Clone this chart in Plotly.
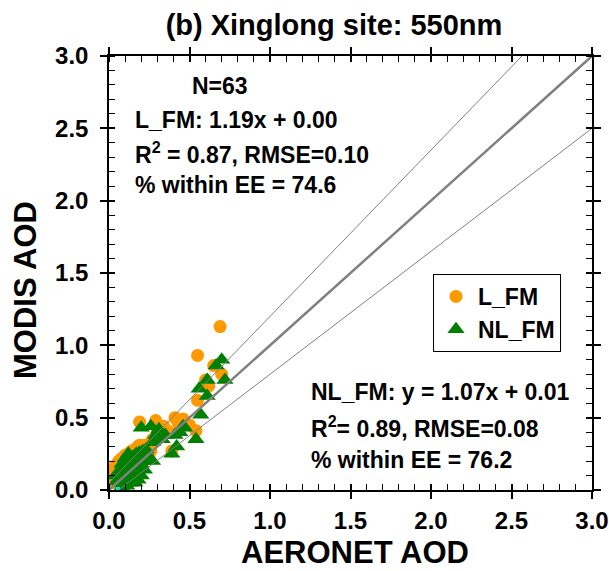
import plotly.graph_objects as go

# ---------------- data ----------------
l_fm_x = [0.69, 0.55, 0.65, 0.70, 0.60, 0.62, 0.55, 0.54, 0.19, 0.29, 0.41, 0.46, 0.34, 0.39, 0.19, 0.24, 0.30, 0.43, 0.37, 0.50,
          0.02, 0.04, 0.05, 0.06, 0.07, 0.08, 0.09, 0.10, 0.11, 0.12, 0.13, 0.14, 0.15, 0.16, 0.17, 0.18, 0.20, 0.21, 0.22, 0.23, 0.25, 0.27,
          0.05, 0.08, 0.10, 0.12, 0.14, 0.16, 0.18,
          0.03, 0.06, 0.09, 0.11, 0.13, 0.15, 0.17, 0.20, 0.22, 0.26, 0.32, 0.36, 0.28, 0.07]
l_fm_y = [1.13, 0.93, 0.86, 0.80, 0.76, 0.72, 0.62, 0.41, 0.47, 0.48, 0.50, 0.49, 0.44, 0.27, 0.31, 0.30, 0.42, 0.46, 0.40, 0.45,
          0.12, 0.17, 0.14, 0.20, 0.15, 0.22, 0.18, 0.24, 0.20, 0.25, 0.22, 0.27, 0.25, 0.28, 0.26, 0.30, 0.29, 0.28, 0.31, 0.25, 0.29, 0.35,
          0.08, 0.10, 0.12, 0.15, 0.13, 0.18, 0.16,
          0.05, 0.07, 0.10, 0.12, 0.11, 0.20, 0.19, 0.23, 0.21, 0.27, 0.38, 0.41, 0.33, 0.09]

nl_fm_x = [0.70, 0.665, 0.61, 0.72, 0.56, 0.61, 0.57, 0.20, 0.26, 0.29, 0.35, 0.41, 0.46, 0.54, 0.39, 0.44, 0.31, 0.33, 0.42, 0.27, 0.47,
           0.08, 0.09, 0.10, 0.12, 0.13, 0.15, 0.17, 0.18, 0.20, 0.22, 0.24, 0.16, 0.14, 0.12, 0.10, 0.08, 0.06, 0.07, 0.09, 0.11,
           0.13, 0.15, 0.17, 0.19, 0.21, 0.23, 0.25, 0.27, 0.20, 0.18, 0.16, 0.11, 0.07, 0.05, 0.06, 0.14, 0.19, 0.22, 0.12, 0.10,
           0.08, 0.04]
nl_fm_y = [0.90, 0.86, 0.76, 0.76, 0.70, 0.65, 0.52, 0.43, 0.44, 0.38, 0.38, 0.38, 0.44, 0.35, 0.25, 0.40, 0.42, 0.35, 0.30, 0.33, 0.43,
           0.02, 0.04, 0.06, 0.08, 0.05, 0.10, 0.12, 0.15, 0.18, 0.20, 0.23, 0.20, 0.16, 0.14, 0.12, 0.10, 0.08, 0.13, 0.17, 0.19,
           0.21, 0.23, 0.25, 0.26, 0.27, 0.28, 0.22, 0.20, 0.10, 0.07, 0.05, 0.03, 0.05, 0.06, 0.11, 0.12, 0.22, 0.14, 0.25, 0.22,
           0.18, 0.10]

extra_x = [0.056]
extra_y = [0.007]

line_x = [0.0, 3.0]
ee_abs = 0.05
ee_rel = 0.15

tick_vals = [0.0, 0.5, 1.0, 1.5, 2.0, 2.5, 3.0]
tick_text = ["0.0", "0.5", "1.0", "1.5", "2.0", "2.5", "3.0"]

FONT = "Liberation Sans, Arial, sans-serif"

fig = go.Figure()

fig.add_trace(go.Scatter(x=l_fm_x, y=l_fm_y, mode="markers", name="L_FM",
                         marker=dict(symbol="circle", size=13, color="#FF9900")))
fig.add_trace(go.Scatter(x=nl_fm_x, y=nl_fm_y, mode="markers", name="NL_FM",
                         marker=dict(symbol="triangle-up", size=15, color="#008000")))
fig.add_trace(go.Scatter(x=extra_x, y=extra_y, mode="markers", showlegend=False,
                         marker=dict(symbol="square", size=4, color="#00E5E5")))

# 1:1 and expected-error lines
fig.add_trace(go.Scatter(x=line_x, y=line_x, mode="lines", showlegend=False,
                         line=dict(color="#808080", width=2.5)))
up_x = [0.0, (3.0 - ee_abs) / (1 + ee_rel)]
fig.add_trace(go.Scatter(x=up_x, y=[v * (1 + ee_rel) + ee_abs for v in up_x], mode="lines",
                         showlegend=False, line=dict(color="#808080", width=1)))
lo_x = [ee_abs / (1 - ee_rel), 3.0]
fig.add_trace(go.Scatter(x=lo_x, y=[v * (1 - ee_rel) - ee_abs for v in lo_x], mode="lines",
                         showlegend=False, line=dict(color="#808080", width=1)))

# invisible trace to carry the overlay axes (inner half of major ticks)
fig.add_trace(go.Scatter(x=line_x, y=line_x, xaxis="x2", yaxis="y2", mode="markers",
                         marker=dict(opacity=0), showlegend=False, hoverinfo="skip"))

axis_common = dict(range=[0, 3], tickvals=tick_vals, ticktext=tick_text, automargin=False,
                   showgrid=False, zeroline=False, showline=True, linecolor="black", linewidth=1.5,
                   mirror="ticks", ticks="outside", ticklen=7, tickwidth=1.5, tickcolor="black",
                   minor=dict(ticks="inside", dtick=0.1, ticklen=6, tickwidth=1.2, tickcolor="black"),
                   tickfont=dict(family=FONT, size=24, color="black", weight="bold"))

fig.update_layout(
    width=609, height=571,
    margin=dict(l=109, r=17, t=56, b=81, autoexpand=False),
    paper_bgcolor="white", plot_bgcolor="white",
    title=dict(text="<b>(b) Xinglong site: 550nm</b>", x=334 / 609, xanchor="center",
               y=1 - 25 / 571, yanchor="middle", font=dict(family=FONT, size=29, color="black")),
    xaxis=dict(**axis_common, ticklabelstandoff=1),
    yaxis=dict(**axis_common, ticklabelstandoff=7),
    xaxis2=dict(range=[0, 3], overlaying="x", matches="x", tickvals=tick_vals, showticklabels=False,
                ticks="inside", ticklen=6, tickwidth=1.5, tickcolor="black", mirror="ticks", automargin=False,
                showline=False, showgrid=False, zeroline=False),
    yaxis2=dict(range=[0, 3], overlaying="y", matches="y", tickvals=tick_vals, showticklabels=False,
                ticks="inside", ticklen=6, tickwidth=1.5, tickcolor="black", mirror="ticks", automargin=False,
                showline=False, showgrid=False, zeroline=False),
    legend=dict(x=(433 - 109) / 483, y=(490 - 274) / 434, xanchor="left", yanchor="top",
                bgcolor="white", bordercolor="black", borderwidth=1,
                font=dict(family=FONT, size=23, color="black", weight="bold"),
                tracegroupgap=0, itemwidth=34),
    showlegend=True,
)

# axis titles as paper-positioned annotations
fig.add_annotation(text="<b>AERONET AOD</b>", x=(355 - 109) / 483, y=-(552 - 490) / 434,
                   xref="paper", yref="paper", xanchor="center", yanchor="middle", showarrow=False,
                   font=dict(family=FONT, size=31, color="black"))
fig.add_annotation(text="<b>MODIS AOD</b>", x=-(109 - 25) / 483, y=(490 - 290) / 434, textangle=-90,
                   xref="paper", yref="paper", xanchor="center", yanchor="middle", showarrow=False,
                   font=dict(family=FONT, size=31, color="black"))

ann_font = dict(family=FONT, size=23, color="black")
texts = [
    ("<b>N=63</b>", 0.50, 2.79),
    ("<b>L_FM: 1.19x + 0.00</b>", 0.15, 2.56),
    ("<b>R<sup>2</sup> = 0.87, RMSE=0.10</b>", 0.15, 2.33),
    ("<b>% within EE = 74.6</b>", 0.15, 2.11),
    ("<b>NL_FM: y = 1.07x + 0.01</b>", 1.24, 0.68),
    ("<b>R<sup>2</sup>= 0.89, RMSE=0.08</b>", 1.24, 0.435),
    ("<b>% within EE = 76.2</b>", 1.24, 0.21),
]
for t, x, y in texts:
    fig.add_annotation(text=t, x=x, y=y, xref="x", yref="y", xanchor="left", yanchor="middle",
                       showarrow=False, font=ann_font)

fig.write_html("out.html")
